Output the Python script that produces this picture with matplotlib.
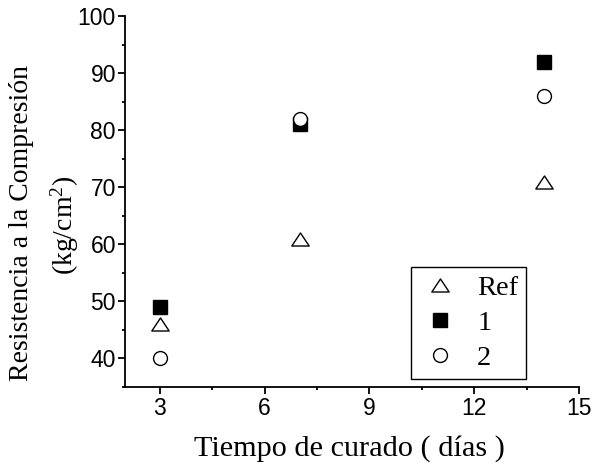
import matplotlib
matplotlib.use("Agg")
import matplotlib.pyplot as plt
from matplotlib.ticker import MultipleLocator
from matplotlib.path import Path

plt.rcParams['mathtext.fontset'] = 'custom'
plt.rcParams['mathtext.rm'] = 'Liberation Serif'
plt.rcParams['mathtext.it'] = 'Liberation Serif:italic'

dias = [3, 7, 14]
ref = [46, 61, 71]
serie1 = [49, 81, 92]
serie2 = [40, 82, 86]
labels = ['Ref', '1', '2']

tri = Path([(0, 0.75), (-1, -0.75), (1, -0.75), (0, 0.75)],
           [Path.MOVETO, Path.LINETO, Path.LINETO, Path.CLOSEPOLY])

fig = plt.figure(figsize=(5.92, 4.69), dpi=100)
ax = fig.add_axes([125/592, 1-387/469, (579-125)/592, (387-16)/469])

ax.plot(dias, ref, linestyle='none', marker=tri, markersize=12.5, markerfacecolor='white',
        markeredgecolor='black', markeredgewidth=1, label=labels[0], zorder=3)
ax.plot(dias, serie1, linestyle='none', marker='s', markersize=9.5, markerfacecolor='black',
        markeredgecolor='black', label=labels[1], zorder=3)
ax.plot(dias, serie2, linestyle='none', marker='o', markersize=10, markerfacecolor='white',
        markeredgecolor='black', markeredgewidth=1, label=labels[2], zorder=4)

ax.set_xlim(2, 15)
ax.set_ylim(35, 100)
ax.xaxis.set_major_locator(MultipleLocator(3))
ax.xaxis.set_minor_locator(MultipleLocator(1.5))
ax.yaxis.set_major_locator(MultipleLocator(10))
ax.yaxis.set_minor_locator(MultipleLocator(5))
ax.spines['top'].set_visible(False)
ax.spines['right'].set_visible(False)
for s in ['left', 'bottom']:
    ax.spines[s].set_linewidth(1.3)
ax.tick_params(which='major', direction='out', length=5, width=1.3, labelsize=16.5)
ax.tick_params(which='minor', direction='out', length=2.5, width=1.3)
ax.tick_params(axis='x', which='major', pad=2.5)
ax.tick_params(axis='y', which='major', pad=1.5)
for lab in ax.get_xticklabels() + ax.get_yticklabels():
    lab.set_fontfamily('Liberation Sans')

fig.text(349/592, 1-449/469, 'Tiempo de curado ( días )', ha='center', va='center',
         fontsize=21.8, family='Liberation Serif')
fig.text(22/592, 1-223/469, 'Resistencia a la Compresión', ha='center', va='center',
         rotation=90, fontsize=20, family='Liberation Serif')
fig.text(65/592, 1-225/469, '(kg/cm$^2$)', ha='center', va='center',
         rotation=90, fontsize=20, family='Liberation Serif')

leg = ax.legend(loc='upper left', bbox_to_anchor=(411/592, 1-267/469),
                bbox_transform=fig.transFigure, frameon=True, fancybox=False,
                edgecolor='black', framealpha=1, prop={'family': 'Liberation Serif', 'size': 20.5},
                handletextpad=0.55, labelspacing=0.33, borderpad=0.27, handlelength=1.5,
                borderaxespad=0)
leg.get_frame().set_linewidth(1.0)

fig.savefig('out.png', dpi=100)
